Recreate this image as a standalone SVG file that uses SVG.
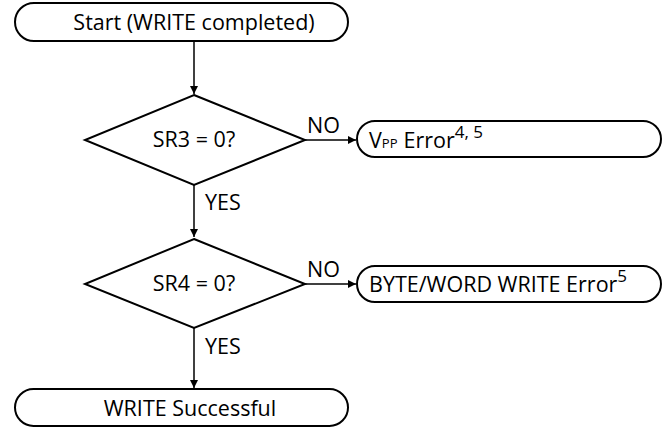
<svg xmlns="http://www.w3.org/2000/svg" width="667" height="429" viewBox="0 0 667 429">
<defs>
<style>
.box{fill:#fff;stroke:#000;stroke-width:2}
.t{font-family:"Open Sans","DejaVu Sans",sans-serif;font-size:21.5px;fill:#000}
.ln{stroke:#000;stroke-width:1.5;fill:none}
</style>
<marker id="ah" viewBox="0 0 10 10" refX="10" refY="5" markerWidth="8" markerHeight="8" markerUnits="userSpaceOnUse" orient="auto"><path d="M0,0 L10,5 L0,10 z" fill="#000"/></marker>
</defs>
<g id="connectors">
<line class="ln" x1="194" y1="41" x2="194" y2="94" marker-end="url(#ah)"/>
<line class="ln" x1="305" y1="140" x2="356" y2="140" marker-end="url(#ah)"/>
<line class="ln" x1="194" y1="185" x2="194" y2="237" marker-end="url(#ah)"/>
<line class="ln" x1="305" y1="284" x2="356" y2="284" marker-end="url(#ah)"/>
<line class="ln" x1="194" y1="328" x2="194" y2="388" marker-end="url(#ah)"/>
<text class="t" x="307" y="133">NO</text>
<text class="t" x="205" y="210">YES</text>
<text class="t" x="307" y="277">NO</text>
<text class="t" x="205" y="354">YES</text>
</g>
<g id="start">
<rect class="box" x="15" y="3" width="333" height="38" rx="19"/>
<text class="t" x="194" y="30" text-anchor="middle">Start (WRITE completed)</text>
</g>
<g id="sr3">
<polygon class="box" points="194,95 305,140 194,185 85,140"/>
<text class="t" x="194" y="147" text-anchor="middle">SR3 = 0?</text>
</g>
<g id="vpp">
<rect class="box" x="357" y="121" width="304" height="36" rx="18"/>
<text class="t" x="369" y="148">V<tspan font-size="13">PP</tspan><tspan dx="6">Error</tspan><tspan font-size="17" dy="-10">4, 5</tspan></text>
</g>
<g id="sr4">
<polygon class="box" points="194,239 305,284 194,328 85,284"/>
<text class="t" x="194" y="291" text-anchor="middle">SR4 = 0?</text>
</g>
<g id="bw">
<rect class="box" x="357" y="266" width="304" height="36" rx="18"/>
<text class="t" x="369" y="292">BYTE/WORD WRITE Error<tspan font-size="17" dy="-10">5</tspan></text>
</g>
<g id="success">
<rect class="box" x="15" y="389" width="333" height="37" rx="18.5"/>
<text class="t" x="190" y="416" text-anchor="middle">WRITE Successful</text>
</g>
</svg>
